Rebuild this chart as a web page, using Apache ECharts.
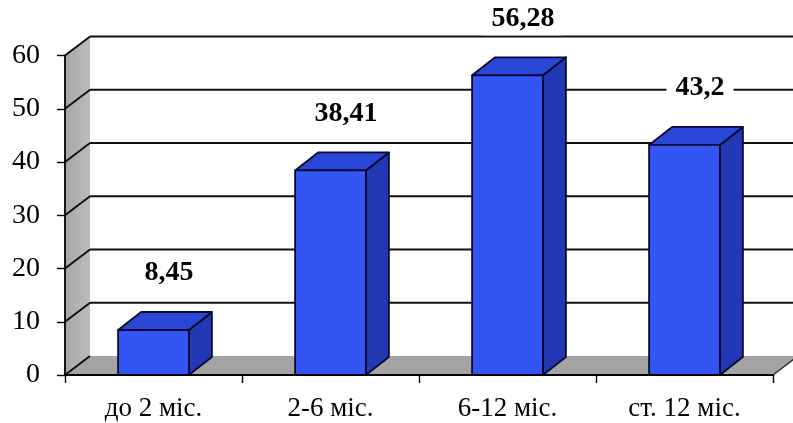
<!DOCTYPE html>
<html>
<head>
<meta charset="utf-8">
<script src="https://cdn.jsdelivr.net/npm/echarts@6/dist/echarts.min.js"></script>
<style>
  html, body { margin: 0; padding: 0; background: #ffffff; }
  #chart { width: 793px; height: 423px; }
</style>
</head>
<body>
<div id="chart"></div>
<script>
// Age groups and their values
var categories = ['до 2 міс.', '2-6 міс.', '6-12 міс.', 'ст. 12 міс.'];
var values = [8.45, 38.41, 56.28, 43.2];
var yTicks = [0, 10, 20, 30, 40, 50, 60];

// Depth of the 3D box (walls) and of each column, in pixels
var WALL_DX = 25, WALL_DY = -19;
var BAR_DX = 23, BAR_DY = -18;
var SERIF = "'Liberation Serif', 'Times New Roman', serif";

function fmt(v) { return String(v).replace('.', ','); }

var chart = echarts.init(document.getElementById('chart'));

// Walls, floor and gridlines of the 3D frame
function renderFrame(params, api) {
  var cs = params.coordSys;
  var x0 = cs.x, x1 = cs.x + cs.width;
  var yB = api.coord([0, 0])[1];
  var yT = api.coord([0, yTicks[yTicks.length - 1]])[1];
  var children = [];
  // left side wall
  children.push({
    type: 'polygon',
    shape: { points: [[x0, yB], [x0, yT], [x0 + WALL_DX, yT + WALL_DY], [x0 + WALL_DX, yB + WALL_DY]] },
    style: {
      fill: new echarts.graphic.LinearGradient(0, 0, 1, 0, [
        { offset: 0, color: '#a6a6a6' }, { offset: 1, color: '#bcbcbc' }
      ])
    }
  });
  // floor
  children.push({
    type: 'polygon',
    shape: { points: [[x0, yB], [x1, yB], [x1 + WALL_DX, yB + WALL_DY], [x0 + WALL_DX, yB + WALL_DY]] },
    style: { fill: '#a4a4a4' }
  });
  // floor right edge
  children.push({
    type: 'line',
    shape: { x1: x1, y1: yB, x2: x1 + WALL_DX, y2: yB + WALL_DY },
    style: { stroke: '#333', lineWidth: 1.5 }
  });
  // gridlines: diagonal on the side wall, horizontal on the back wall
  yTicks.forEach(function (v) {
    var y = api.coord([0, v])[1];
    children.push({
      type: 'line',
      shape: { x1: x0, y1: y, x2: x0 + WALL_DX, y2: y + WALL_DY },
      style: { stroke: '#111', lineWidth: 2 }
    });
    if (v !== 0) {
      children.push({
        type: 'line',
        shape: { x1: x0 + WALL_DX, y1: y + WALL_DY, x2: x1 + WALL_DX, y2: y + WALL_DY },
        style: { stroke: '#111', lineWidth: 2 }
      });
    }
  });
  return { type: 'group', children: children };
}

// 3D column: front face, top face and right side face
function renderBar(params, api) {
  var idx = api.value(0);
  var v = api.value(1);
  var top = api.coord([idx, v]);
  var base = api.coord([idx, 0]);
  var w = api.size([1, 0])[0] * 0.4;
  var xl = top[0] - w / 2, xr = top[0] + w / 2;
  var yt = top[1], yb = base[1];
  var stroke = { stroke: '#0a0a30', lineWidth: 1.8, lineJoin: 'round' };
  return {
    type: 'group',
    children: [
      {
        type: 'polygon',
        shape: { points: [[xr, yt], [xr + BAR_DX, yt + BAR_DY], [xr + BAR_DX, yb + BAR_DY], [xr, yb]] },
        style: Object.assign({ fill: '#2137b4' }, stroke)
      },
      {
        type: 'polygon',
        shape: { points: [[xl, yt], [xr, yt], [xr + BAR_DX, yt + BAR_DY], [xl + BAR_DX, yt + BAR_DY]] },
        style: Object.assign({ fill: '#2a46d6' }, stroke)
      },
      {
        type: 'rect',
        shape: { x: xl, y: yt, width: w, height: yb - yt },
        style: Object.assign({ fill: '#3355f4' }, stroke)
      }
    ]
  };
}

// Value labels above the columns, on a white plate over the gridlines
function renderLabel(params, api) {
  var idx = api.value(0);
  var v = api.value(1);
  var p = api.coord([idx, v]);
  return {
    type: 'text',
    x: p[0] + 15.5,
    y: p[1] - 57,
    style: {
      text: fmt(v),
      font: 'bold 28px ' + SERIF,
      fill: '#000',
      align: 'center',
      verticalAlign: 'middle',
      backgroundColor: '#ffffff',
      padding: [4, 9, 2, 9]
    }
  };
}

var barData = values.map(function (v, i) { return [i, v]; });

chart.setOption({
  backgroundColor: '#ffffff',
  animation: false,
  grid: { left: 65, right: 20, top: 55.5, bottom: 48 },
  xAxis: {
    type: 'category',
    data: categories,
    boundaryGap: true,
    axisLine: { show: true, lineStyle: { color: '#000', width: 1.8 } },
    axisTick: { show: true, length: 8, lineStyle: { color: '#000', width: 1.4 } },
    axisLabel: { color: '#000', fontFamily: SERIF, fontSize: 27, margin: 20 },
    splitLine: { show: false },
    z: 10
  },
  yAxis: {
    type: 'value',
    min: 0,
    max: 60,
    interval: 10,
    axisLine: { show: true, lineStyle: { color: '#000', width: 1.8 } },
    axisTick: { show: true, length: 8, lineStyle: { color: '#000', width: 1.4 } },
    axisLabel: { color: '#000', fontFamily: SERIF, fontSize: 28, margin: 25 },
    splitLine: { show: false },
    z: 10
  },
  series: [
    {
      type: 'custom',
      renderItem: renderFrame,
      data: [[0, 0]],
      silent: true,
      z: 1
    },
    {
      type: 'custom',
      renderItem: renderBar,
      data: barData,
      z: 3
    },
    {
      type: 'custom',
      renderItem: renderLabel,
      data: barData,
      z: 5
    }
  ]
});
</script>
</body>
</html>
